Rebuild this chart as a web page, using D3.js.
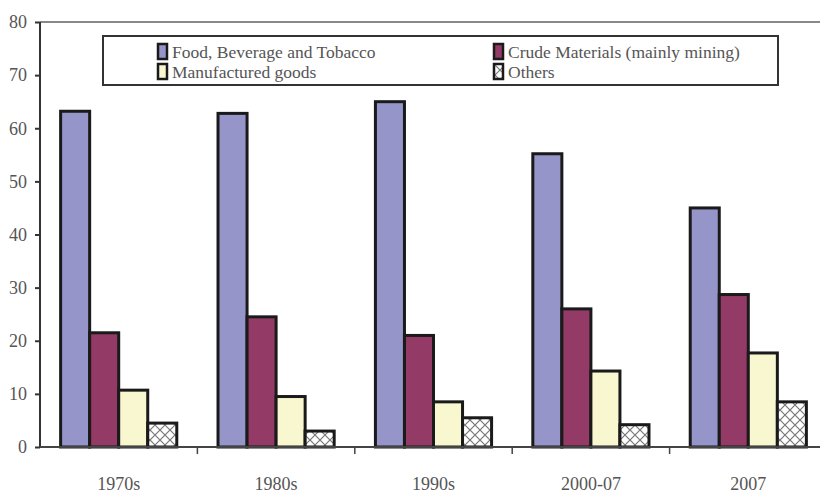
<!DOCTYPE html>
<html><head><meta charset="utf-8">
<script src="https://cdn.jsdelivr.net/npm/d3@7"></script>
<style>body{margin:0;background:#fff}svg{display:block}</style>
</head><body><svg id="c" width="820" height="493"></svg>
<script>
const categories = ["1970s","1980s","1990s","2000-07","2007"];
const seriesNames = ["Food, Beverage and Tobacco","Crude Materials (mainly mining)","Manufactured goods","Others"];
const food   = [63.2, 62.8, 65.0, 55.2, 45.0];
const crude  = [21.5, 24.5, 21.0, 26.0, 28.7];
const manuf  = [10.7, 9.5, 8.5, 14.3, 17.7];
const others = [4.5, 3.0, 5.5, 4.2, 8.5];
const yTicks = [0,10,20,30,40,50,60,70,80];
const colors = ["#9595c9","#943a66","#f9f7cf","url(#hatch)"];

(function(){
const svg = d3.select("#c");
const defs = svg.append("defs");
const pat = defs.append("pattern").attr("id","hatch").attr("patternUnits","userSpaceOnUse")
  .attr("width",10).attr("height",10);
pat.append("rect").attr("width",10).attr("height",10).attr("fill","#fff");
pat.append("path").attr("d","M0,0 L10,10 M10,0 L0,10 M-5,5 L0,10 M5,-5 L10,0")
  .attr("stroke","#777").attr("stroke-width",1.2).attr("fill","none");

const mL = 40, mR = 827, mT = 22, mB = 447;
const x = d3.scaleBand().domain(categories).range([mL, mR]).paddingInner(0).paddingOuter(0);
const x1 = d3.scaleBand().domain(d3.range(4)).range([0, x.bandwidth()]).paddingOuter(0.71).paddingInner(0);
const y = d3.scaleLinear().domain([0,80]).range([mB, mT]);
const data = [food, crude, manuf, others];
const font = "'Liberation Serif','Times New Roman',serif";

svg.append("line").attr("x1",mL).attr("x2",820).attr("y1",y(80)).attr("y2",y(80))
  .attr("stroke","#888").attr("stroke-width",2);

categories.forEach((c,i)=>{
  data.forEach((s,j)=>{
    svg.append("rect")
      .attr("x", x(c)+x1(j)).attr("width", x1.bandwidth())
      .attr("y", y(s[i])).attr("height", y(0)-y(s[i]))
      .attr("fill", colors[j]).attr("stroke","#1a1a1a").attr("stroke-width",3);
  });
});

const ya = svg.append("g").attr("transform",`translate(${mL},0)`)
  .call(d3.axisLeft(y).tickValues(yTicks).tickSize(5).tickPadding(8));
ya.select(".domain").attr("stroke","#333").attr("stroke-width",2).attr("d",`M0,${y(80)}V${y(0)}`);
ya.selectAll(".tick line").attr("stroke","#333").attr("stroke-width",2);
ya.selectAll("text").attr("font-family",font).attr("font-size",18).attr("fill","#555");

const xa = svg.append("g").attr("transform",`translate(0,${mB})`)
  .call(d3.axisBottom(x).tickSize(0).tickPadding(30));
xa.select(".domain").attr("stroke","#444").attr("stroke-width",2).attr("d",`M${mL},0H820`);
xa.selectAll("text").attr("font-family",font).attr("font-size",18).attr("fill","#555");
svg.append("g").selectAll("line").data(categories.slice(1)).join("line")
  .attr("x1",d=>x(d)).attr("x2",d=>x(d)).attr("y1",mB).attr("y2",mB+7)
  .attr("stroke","#444").attr("stroke-width",1.5);

const lg = svg.append("g");
lg.append("rect").attr("x",103).attr("y",36).attr("width",675).attr("height",49)
  .attr("fill","#fff").attr("stroke","#333").attr("stroke-width",2);
const pos = [[157,52],[493,52],[157,72],[493,72]];
seriesNames.forEach((n,j)=>{
  const [px,py] = pos[j];
  lg.append("rect").attr("x",px+1).attr("y",py-8).attr("width",9).attr("height",15)
    .attr("fill",colors[j]).attr("stroke","#1a1a1a").attr("stroke-width",2.5);
  lg.append("text").attr("x",px+15).attr("y",py+6).text(n)
    .attr("font-family",font).attr("font-size",17.5).attr("fill","#555");
});
})();
</script></body></html>
